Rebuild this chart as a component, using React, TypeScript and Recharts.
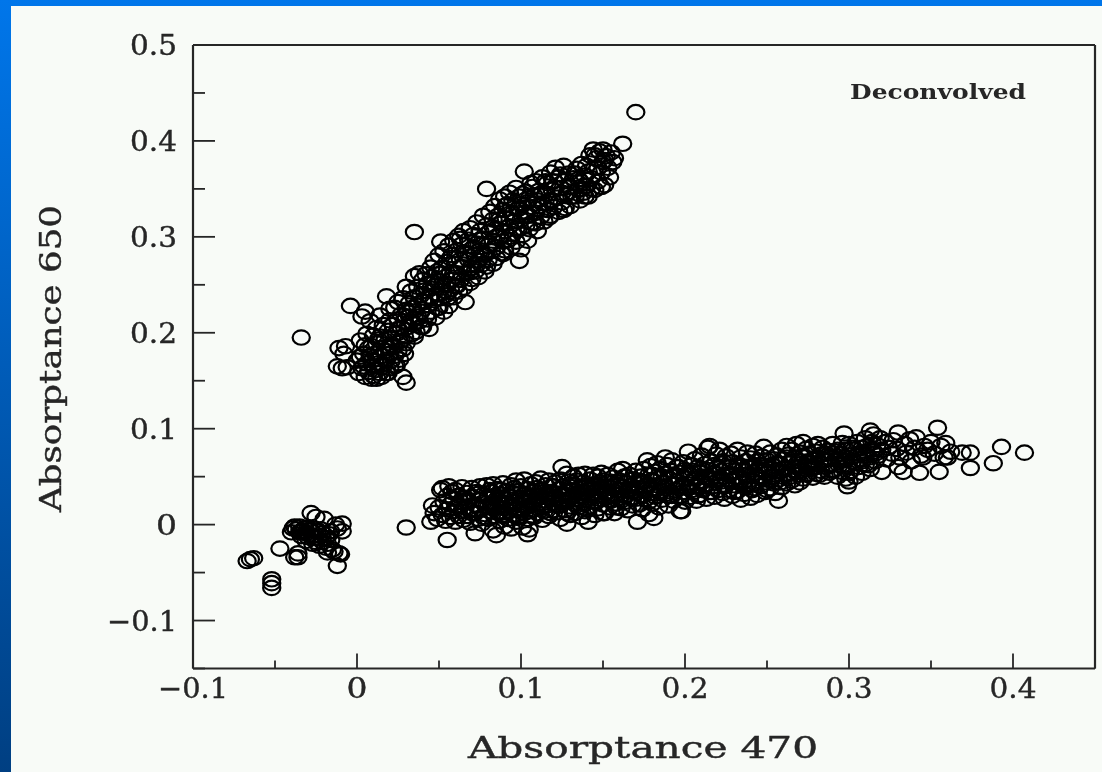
import React from "react";
import { Scatter, ScatterChart, XAxis, YAxis } from "recharts";

type Pair = [number, number];

const xTicks = [-0.1, -0.05, 0, 0.05, 0.1, 0.15, 0.2, 0.25, 0.3, 0.35, 0.4, 0.45];
const yTicks = [-0.15, -0.1, -0.05, 0, 0.05, 0.1, 0.15, 0.2, 0.25, 0.3, 0.35, 0.4, 0.45, 0.5];
const xLabels = ["\u22120.1", "0", "0.1", "0.2", "0.3", "0.4"];
const yLabels = ["\u22120.1", "0", "0.1", "0.2", "0.3", "0.4", "0.5"];

// pairs are [absorptance 470, absorptance 650]
const upperBand: Pair[] = [
  [-.034,.195],[-.012,.165],[-.011,.184],[-.009,.163],[-.008,.178],[-.007,.186],[-.006,.164],[-.004,.228],
  [.000,.171],[.001,.158],[.002,.192],[.003,.217],[.003,.163],[.004,.178],[.005,.187],[.005,.154],[.005,.222],
  [.006,.168],[.006,.199],[.007,.159],[.008,.176],[.008,.212],[.009,.152],[.009,.186],[.010,.165],[.010,.197],[.010,.155],
  [.011,.178],[.012,.205],[.012,.152],[.012,.189],[.013,.168],[.014,.218],[.014,.158],[.014,.196],[.015,.176],[.015,.184],[.015,.154],
  [.016,.208],[.016,.165],[.017,.192],[.018,.238],[.018,.172],[.018,.158],[.019,.202],[.019,.184],[.02,.225],[.02,.178],[.02,.213],[.02,.163],
  [.021,.195],[.021,.171],[.022,.208],[.022,.186],[.023,.165],[.023,.226],[.024,.166],[.024,.199],[.025,.214],[.025,.181],[.025,.232],
  [.026,.191],[.026,.172],[.027,.219],[.027,.205],[.028,.154],[.028,.236],[.028,.183],[.029,.212],[.029,.196],[.030,.148],[.030,.248],[.030,.224],[.030,.189],
  [.031,.206],[.032,.231],[.032,.217],[.033,.198],[.033,.243],[.034,.226],[.034,.209],[.035,.305],[.035,.259],[.035,.237],[.035,.215],
  [.036,.201],[.037,.248],[.037,.228],[.038,.262],[.038,.212],[.039,.239],[.039,.222],[.040,.255],[.040,.206],[.040,.233],
  [.041,.244],[.042,.261],[.042,.218],[.043,.229],[.043,.251],[.044,.204],[.044,.238],[.045,.268],[.045,.246],[.045,.222],
  [.046,.258],[.047,.234],[.047,.275],[.048,.249],[.048,.216],[.049,.264],[.049,.241],[.050,.226],[.050,.281],[.050,.254],
  [.051,.295],[.051,.236],[.052,.268],[.052,.247],[.053,.285],[.053,.222],[.054,.258],[.054,.239],[.055,.274],[.055,.251],
  [.056,.291],[.056,.228],[.057,.263],[.057,.245],[.058,.281],[.058,.255],[.059,.296],[.059,.237],[.060,.272],[.060,.249],
  [.061,.286],[.061,.262],[.062,.301],[.062,.243],[.063,.276],[.063,.255],[.064,.292],[.064,.268],[.065,.306],[.065,.247],
  [.066,.232],[.066,.283],[.067,.263],[.068,.297],[.068,.276],[.069,.252],[.069,.309],[.070,.287],[.070,.268],[.070,.256],
  [.071,.302],[.072,.281],[.072,.264],[.073,.315],[.073,.293],[.074,.275],[.074,.258],[.075,.306],[.075,.286],
  [.076,.271],[.077,.322],[.077,.298],[.078,.281],[.078,.264],[.079,.350],[.079,.312],[.080,.291],[.080,.276],
  [.081,.326],[.081,.305],[.082,.285],[.083,.318],[.083,.296],[.083,.272],[.084,.332],[.084,.308],[.085,.289],[.085,.278],
  [.086,.322],[.087,.301],[.087,.339],[.088,.283],[.088,.314],[.089,.295],[.089,.328],[.090,.342],[.090,.306],[.090,.286],
  [.091,.319],[.092,.297],[.092,.334],[.093,.311],[.093,.346],[.094,.289],[.094,.325],[.095,.303],[.095,.338],
  [.096,.316],[.097,.351],[.097,.295],[.098,.329],[.098,.307],[.099,.275],[.099,.342],[.100,.318],[.100,.287],[.100,.334],
  [.101,.302],[.102,.368],[.102,.325],[.103,.347],[.103,.312],[.104,.296],[.104,.336],[.105,.322],[.105,.308],
  [.106,.356],[.107,.331],[.107,.315],[.108,.343],[.109,.325],[.109,.358],[.110,.306],[.110,.338],
  [.111,.348],[.112,.321],[.113,.335],[.113,.362],[.114,.316],[.115,.345],[.116,.328],[.116,.356],[.117,.338],[.118,.367],[.118,.322],[.119,.349],[.120,.331],[.120,.358],
  [.121,.372],[.122,.341],[.123,.326],[.124,.365],[.124,.351],[.125,.336],[.126,.374],[.126,.328],[.127,.358],[.128,.345],[.129,.366],[.130,.332],[.130,.352],
  [.132,.361],[.133,.342],[.134,.371],[.135,.349],[.136,.358],[.136,.338],[.137,.376],[.138,.346],[.139,.364],[.140,.353],[.140,.374],
  [.141,.342],[.142,.385],[.143,.361],[.144,.391],[.145,.349],[.145,.372],[.146,.382],[.147,.358],[.148,.389],[.149,.367],[.150,.378],[.150,.391],[.151,.354],[.152,.384],[.153,.372],[.154,.362],[.155,.388],[.156,.378],[.157,.382],[.162,.397],[.170,.430],
];

const upperCore: Pair[] = [
  [.002,.175],[.004,.165],[.007,.184],[.009,.171],[.011,.161],[.013,.193],[.015,.167],[.017,.181],[.019,.158],[.021,.188],[.023,.176],[.025,.204],[.027,.192],[.029,.178],
  [.031,.221],[.033,.212],[.035,.196],[.037,.217],[.039,.206],[.041,.232],[.043,.214],[.045,.236],[.047,.252],[.049,.226],[.051,.262],[.053,.244],[.055,.236],[.057,.278],[.059,.262],
  [.061,.249],[.063,.298],[.065,.271],[.067,.282],[.069,.263],[.071,.289],[.073,.271],[.075,.297],[.077,.282],[.079,.269],[.081,.293],[.083,.31],[.085,.3],[.087,.318],[.089,.282],
  [.091,.333],[.093,.3],[.095,.324],[.097,.309],[.099,.33],[.101,.345],[.103,.322],[.105,.34],[.107,.352],[.109,.314],[.111,.332],[.113,.346],[.115,.358],[.117,.32],[.119,.338],
  [.121,.351],[.123,.362],[.125,.346],[.127,.33],[.129,.352],[.131,.342],[.133,.366],[.135,.36],[.137,.35],[.139,.342],[.141,.368],[.143,.35],[.145,.385],[.147,.372],[.149,.352],[.151,.38],
];

const lowerBandLeft: Pair[] = [
  [.030,-.003],[.045,.003],[.046,.020],[.047,.012],[.049,.006],[.050,.018],[.051,.036],[.052,.038],[.052,.010],[.053,.024],[.054,.004],[.055,.016],[.055,.030],[.055,-.016],
  [.056,.040],[.057,.021],[.057,.008],[.058,.034],[.059,.014],[.059,.027],[.060,.003],[.060,.036],
  [.061,.019],[.062,.030],[.062,.009],[.063,.024],[.064,.039],[.064,.014],[.065,.005],[.065,.028],
  [.066,.018],[.067,.033],[.067,.009],[.068,.024],[.069,.002],[.069,.015],[.070,.029],[.070,.038],
  [.072,-.009],[.072,.012],[.072,.021],[.073,.034],[.074,.006],[.074,.026],[.075,.017],[.075,.040],
  [.076,.001],[.077,.023],[.077,.031],[.078,.011],[.079,.041],[.079,.019],[.080,.006],[.080,.028],
  [.081,.036],[.082,.014],[.082,.022],[.083,-.006],[.083,.042],[.084,.009],[.084,.030],[.085,-.011],[.085,.018],[.085,.026],
  [.086,.037],[.087,.004],[.087,.014],[.088,.031],[.088,.021],[.089,.043],[.089,.009],[.090,.026],[.090,-.002],[.090,.017],
  [.091,.035],[.092,.022],[.092,.006],[.093,.029],[.093,.014],[.094,.041],[.094,-.004],[.095,.019],[.095,.033],[.095,.010],
  [.096,.024],[.097,.046],[.097,.003],[.098,.016],[.098,.035],[.099,.028],[.099,.009],[.100,.021],[.100,.040],[.100,.013],
  [.101,-.003],[.102,.031],[.102,.047],[.103,.018],[.103,.025],[.104,-.010],[.104,.037],[.104,.006],[.105,.014],[.105,.029],[.105,-.005],
  [.106,.042],[.107,.021],[.107,.009],[.108,.034],[.108,.016],[.109,.027],[.109,.044],[.110,.012],[.110,.038],[.110,.022],
  [.111,.030],[.112,.018],[.112,.048],[.113,.005],[.113,.036],[.114,.025],[.114,.014],[.115,.041],[.115,.031],
  [.116,.020],[.117,.046],[.117,.009],[.118,.034],[.118,.027],[.119,.015],[.119,.040],[.120,.023],[.120,.032],
  [.121,.044],[.122,.013],[.122,.028],[.123,.037],[.123,.020],[.124,.006],[.124,.047],[.125,.060],[.125,.031],[.125,.024],
  [.126,.040],[.127,.015],[.128,.001],[.128,.034],[.128,.053],[.129,.026],[.129,.045],[.130,.019],[.130,.036],[.130,.010],
  [.131,.029],[.132,.050],[.132,.041],[.133,.022],[.133,.012],[.134,.035],[.134,.046],[.135,.027],[.135,.018],[.135,.052],
  [.136,.038],[.137,.030],[.137,.008],[.138,.044],[.138,.023],[.139,.053],[.139,.014],[.140,.034],[.140,.026],[.140,.041],
  [.141,.003],[.142,.047],[.142,.019],[.143,.032],[.143,.038],[.144,.024],[.144,.052],[.145,.010],[.145,.042],[.145,.029],
  [.146,.035],[.147,.017],[.147,.050],[.148,.044],[.148,.027],[.149,.054],[.149,.037],[.150,.021],[.150,.031],[.150,.046],
  [.151,.012],[.152,.040],[.152,.028],[.153,.052],[.153,.034],[.154,.018],[.154,.045],[.155,.025],[.155,.038],
  [.156,.049],[.157,.031],[.157,.012],[.158,.042],[.158,.022],[.159,.056],[.159,.036],[.160,.028],[.160,.046],
  [.161,.017],[.162,.058],[.162,.039],[.163,.030],[.163,.050],[.164,.024],[.164,.043],[.165,.035],[.165,.015],
  [.166,.052],[.167,.028],[.167,.041],[.168,.020],[.168,.047],[.169,.035],[.170,.056],[.170,.027],[.170,.043],
  [.171,.003],[.172,.038],[.172,.021],[.173,.050],[.173,.031],[.174,.045],[.174,.016],[.175,.036],[.175,.058],
  [.176,.027],[.177,.067],[.177,.042],[.178,.052],[.178,.011],[.179,.033],[.179,.061],[.180,.022],[.180,.046],[.180,.038],
];

const lowerBandRight: Pair[] = [
  [.181,.007],[.182,.055],[.182,.029],[.183,.041],[.183,.064],[.184,.018],[.184,.048],[.185,.035],[.185,.058],
  [.186,.026],[.187,.044],[.188,.070],[.188,.053],[.188,.032],[.189,.062],[.189,.038],[.190,.020],[.190,.048],
  [.191,.056],[.192,.030],[.192,.067],[.193,.042],[.193,.025],[.194,.051],[.194,.036],[.195,.060],[.195,.045],
  [.196,.029],[.197,.014],[.197,.054],[.198,.014],[.198,.040],[.199,.065],[.199,.034],[.200,.048],[.200,.024],[.200,.057],
  [.202,.076],[.202,.038],[.203,.052],[.203,.029],[.204,.062],[.204,.044],[.205,.034],[.205,.056],
  [.206,.068],[.207,.025],[.207,.048],[.208,.040],[.208,.060],[.209,.031],[.209,.054],[.210,.072],[.210,.044],
  [.211,.036],[.212,.063],[.212,.050],[.213,.027],[.213,.042],[.214,.057],[.214,.080],[.215,.082],[.215,.034],[.215,.047],
  [.216,.066],[.217,.040],[.218,.054],[.218,.029],[.219,.073],[.219,.048],[.220,.060],[.220,.036],
  [.221,.078],[.222,.045],[.222,.056],[.223,.033],[.223,.066],[.224,.050],[.224,.027],[.225,.071],[.225,.041],
  [.226,.060],[.227,.036],[.227,.053],[.228,.074],[.228,.046],[.229,.030],[.229,.065],[.230,.056],[.230,.041],
  [.232,.078],[.232,.035],[.233,.062],[.233,.049],[.234,.026],[.234,.070],[.235,.043],[.235,.057],
  [.236,.032],[.237,.066],[.237,.051],[.238,.075],[.238,.040],[.239,.059],[.240,.028],[.240,.047],[.240,.069],
  [.241,.036],[.242,.062],[.242,.054],[.243,.043],[.243,.074],[.244,.031],[.244,.066],[.245,.050],[.245,.058],
  [.246,.040],[.247,.071],[.248,.081],[.248,.047],[.249,.060],[.249,.034],[.250,.054],[.250,.067],[.250,.044],
  [.252,.075],[.252,.038],[.253,.062],[.253,.050],[.254,.068],[.254,.043],[.255,.056],[.255,.033],
  [.256,.072],[.257,.025],[.257,.047],[.258,.063],[.258,.055],[.259,.039],[.259,.078],[.260,.068],[.260,.050],
  [.261,.059],[.262,.082],[.262,.043],[.263,.073],[.263,.053],[.264,.064],[.265,.046],[.265,.078],
  [.266,.057],[.267,.070],[.267,.041],[.268,.084],[.268,.063],[.269,.052],[.270,.044],[.270,.075],[.270,.066],
  [.271,.056],[.272,.086],[.272,.048],[.273,.070],[.274,.061],[.274,.079],[.275,.053],[.275,.066],
  [.276,.074],[.277,.058],[.278,.082],[.278,.049],[.279,.067],[.280,.060],[.280,.076],[.280,.053],
  [.281,.084],[.282,.064],[.283,.056],[.283,.073],[.284,.080],[.285,.067],[.285,.050],[.286,.060],[.287,.077],[.288,.070],[.288,.054],[.289,.063],[.290,.084],[.290,.074],
  [.291,.057],[.292,.068],[.293,.078],[.293,.050],[.294,.062],[.295,.074],[.296,.085],[.296,.055],[.297,.095],[.297,.067],[.298,.048],[.298,.078],[.299,.040],[.299,.061],[.300,.072],[.300,.045],[.300,.084],
  [.301,.056],[.302,.066],[.303,.078],[.304,.050],[.305,.072],[.305,.086],[.306,.060],[.307,.068],[.308,.080],[.308,.054],[.309,.074],[.310,.090],[.310,.063],
  [.311,.082],[.312,.070],[.313,.098],[.313,.058],[.314,.086],[.315,.076],[.315,.094],[.316,.066],[.317,.083],[.318,.072],[.319,.090],[.320,.055],[.320,.078],
  [.322,.086],[.323,.068],[.324,.080],[.326,.074],[.327,.088],[.329,.079],[.330,.096],[.330,.060],[.331,.070],[.333,.055],[.334,.084],[.335,.075],[.337,.089],[.338,.066],[.340,.080],
  [.341,.091],[.343,.054],[.344,.072],[.345,.070],[.346,.082],[.348,.078],[.350,.086],[.352,.074],[.354,.101],[.355,.055],[.356,.082],[.358,.070],[.359,.085],[.360,.070],[.362,.076],[.369,.075],[.374,.059],[.374,.075],[.388,.064],[.393,.081],[.407,.075],
];

// the solid black middle of the lower band
const lowerCore: Pair[] = [
  [.062,.02],[.066,.028],[.07,.012],[.074,.032],[.077,.008],[.08,.018],[.082,.034],[.084,.02],[.086,.012],[.088,.036],[.09,.01],[.092,.03],[.094,.018],[.096,.038],[.098,.007],
  [.1,.028],[.102,.012],[.104,.024],[.106,.03],[.108,.008],[.11,.03],[.112,.036],[.114,.02],[.116,.032],[.118,.012],[.12,.04],[.122,.02],[.124,.03],[.126,.024],[.128,.012],
  [.13,.042],[.132,.03],[.134,.02],[.136,.025],[.138,.034],[.14,.016],[.142,.036],[.144,.04],[.146,.024],[.148,.034],[.15,.012],[.152,.034],[.154,.03],[.156,.04],[.158,.018],
  [.16,.036],[.162,.026],[.164,.05],[.166,.036],[.168,.028],[.17,.036],[.172,.046],[.174,.03],[.176,.04],[.178,.024],[.18,.052],[.182,.036],[.184,.03],[.186,.05],[.188,.04],
  [.19,.03],[.192,.05],[.194,.042],[.196,.06],[.198,.03],[.2,.04],[.202,.054],[.204,.036],[.206,.048],[.208,.03],[.21,.058],[.212,.04],[.214,.05],[.216,.034],[.218,.062],
  [.22,.046],[.222,.064],[.224,.04],[.226,.052],[.228,.06],[.23,.034],[.232,.05],[.234,.06],[.236,.045],[.238,.052],[.24,.06],[.242,.038],[.244,.05],[.246,.062],[.248,.056],
  [.25,.036],[.252,.058],[.254,.05],[.256,.064],[.258,.044],[.26,.058],[.262,.07],[.264,.05],[.266,.066],[.268,.055],[.27,.06],[.272,.072],[.274,.052],[.276,.064],[.278,.06],
  [.28,.07],[.282,.052],[.284,.068],[.286,.074],[.288,.062],[.29,.056],[.292,.076],[.294,.068],[.296,.062],[.298,.07],[.3,.054],[.302,.08],[.304,.064],[.306,.074],[.308,.066],
  [.31,.072],[.312,.062],[.314,.078],[.316,.074],
];

const originCluster: Pair[] = [
  [-.067,-.038],[-.065,-.036],[-.063,-.035],[-.052,-.057],[-.052,-.061],[-.052,-.066],[-.047,-.025],
  [-.040,-.008],[-.039,-.004],[-.038,-.034],[-.037,-.005],[-.036,-.034],[-.036,-.030],[-.035,-.002],[-.034,-.012],[-.033,-.006],[-.032,-.004],[-.031,-.017],[-.030,-.003],[-.029,-.010],
  [-.028,.012],[-.027,-.020],[-.026,-.014],[-.025,.008],[-.024,-.006],[-.023,-.022],[-.022,-.012],[-.021,-.018],[-.020,.006],[-.019,-.024],[-.018,-.029],[-.017,-.010],[-.016,-.016],
  [-.014,-.028],[-.013,.000],[-.012,-.043],[-.012,-.004],[-.011,-.030],[-.010,-.031],[-.009,-.007],[-.009,.001],
  [-.038,-.002],[-.034,-.007],[-.031,-.009],[-.028,-.006],[-.026,-.004],[-.027,-.012],[-.024,-.014],[-.022,-.005],[-.021,-.009],[-.019,-.014],[-.018,-.020],[-.016,-.007],[-.035,-.008],[-.03,-.013],[-.025,-.018],[-.015,-.026],
];

const clusters = [upperBand, upperCore, lowerBandLeft, lowerBandRight, lowerCore, originCluster];

const INK = "#262626";
const FONT = "'DejaVu Serif', serif";
const LABEL_WIDTHS: Record<number, number> = { 1: 21, 3: 47, 4: 70 };

const toRows = (pairs: Pair[]) => pairs.map(([x, y]) => ({ x, y }));

// Labelled ticks are every 0.1, the ones between are short and unlabelled
const isMajor = (value: number) => Math.abs(value * 10 - Math.round(value * 10)) < 1e-6;

const formatTick = (value: number) => {
  const rounded = Math.round(value * 10) / 10;
  if (rounded === 0) return "0";
  return rounded < 0 ? `\u2212${Math.abs(rounded)}` : String(rounded);
};

const tickTextProps = (label: string) => ({
  fontFamily: FONT,
  fontSize: 28,
  fill: INK,
  stroke: INK,
  strokeWidth: 0.4,
  textLength: LABEL_WIDTHS[label.length],
  lengthAdjust: "spacingAndGlyphs" as const,
});

const BottomTick = ({ x, y, payload }: any) => {
  const major = isMajor(payload.value);
  const label = formatTick(payload.value);
  return (
    <g>
      <line x1={x} x2={x} y1={y} y2={y - (major ? 15 : 8)} stroke={INK} strokeWidth={1.8} />
      {major && xLabels.includes(label) && (
        <text x={x} y={y + 29} textAnchor="middle" {...tickTextProps(label)}>
          {label}
        </text>
      )}
    </g>
  );
};

const TopTick = ({ x, y, payload }: any) => (
  <line x1={x} x2={x} y1={y} y2={y + (isMajor(payload.value) ? 15 : 8)} stroke={INK} strokeWidth={1.8} />
);

const LeftTick = ({ x, y, payload }: any) => {
  const major = isMajor(payload.value);
  const label = formatTick(payload.value);
  return (
    <g>
      <line x1={x} x2={x + (major ? 22 : 12)} y1={y} y2={y} stroke={INK} strokeWidth={1.8} />
      {major && yLabels.includes(label) && (
        <text x={x - 16} y={y + 10} textAnchor="end" {...tickTextProps(label)}>
          {label}
        </text>
      )}
    </g>
  );
};

const RightTick = ({ x, y, payload }: any) => (
  <line x1={x} x2={x - (isMajor(payload.value) ? 22 : 12)} y1={y} y2={y} stroke={INK} strokeWidth={1.8} />
);

const Ring = ({ cx, cy }: any) => (
  <ellipse cx={cx} cy={cy} rx={8.6} ry={7.2} fill="none" stroke="#000" strokeWidth={2.2} />
);

export default function App() {
  return (
    <div
      style={{
        position: "absolute",
        left: 0,
        top: 0,
        width: 1102,
        height: 772,
        overflow: "hidden",
        background: "linear-gradient(#0076ea, #003f82)",
      }}
    >
      <div style={{ position: "absolute", left: 11, top: 6, width: 1091, height: 766, background: "#f8fbf7" }} />
      <div style={{ position: "absolute", left: 0, top: 0, filter: "blur(0.6px)" }}>
        <ScatterChart width={1102} height={772} margin={{ top: 0, right: 0, bottom: 0, left: 0 }}>
          <XAxis
            xAxisId="bottom"
            type="number"
            dataKey="x"
            orientation="bottom"
            domain={[-0.1, 0.45]}
            ticks={xTicks}
            interval={0}
            height={103.5}
            tickSize={0}
            tickMargin={0}
            tickLine={false}
            tick={BottomTick}
            axisLine={{ stroke: INK, strokeWidth: 2.2 }}
          />
          <XAxis
            xAxisId="top"
            type="number"
            dataKey="x"
            orientation="top"
            domain={[-0.1, 0.45]}
            ticks={xTicks}
            interval={0}
            height={45}
            tickSize={0}
            tickMargin={0}
            tickLine={false}
            tick={TopTick}
            axisLine={{ stroke: INK, strokeWidth: 2.2 }}
          />
          <YAxis
            yAxisId="left"
            type="number"
            dataKey="y"
            orientation="left"
            domain={[-0.15, 0.5]}
            ticks={yTicks}
            interval={0}
            width={193}
            tickSize={0}
            tickMargin={0}
            tickLine={false}
            tick={LeftTick}
            axisLine={{ stroke: INK, strokeWidth: 2.2 }}
          />
          <YAxis
            yAxisId="right"
            type="number"
            dataKey="y"
            orientation="right"
            domain={[-0.15, 0.5]}
            ticks={yTicks}
            interval={0}
            width={7}
            tickSize={0}
            tickMargin={0}
            tickLine={false}
            tick={RightTick}
            axisLine={{ stroke: INK, strokeWidth: 2.2 }}
          />
          {clusters.map((pairs, i) => (
            <Scatter
              key={i}
              data={toRows(pairs)}
              xAxisId="bottom"
              yAxisId="left"
              shape={Ring}
              isAnimationActive={false}
            />
          ))}
          <text x={850} y={99} fontFamily={FONT} fontWeight="bold" fontSize={21} fill={INK} textLength={176} lengthAdjust="spacingAndGlyphs">
            Deconvolved
          </text>
          <text x={468} y={758} fontFamily={FONT} fontSize={29} fill={INK} stroke={INK} strokeWidth={0.4} textLength={350} lengthAdjust="spacingAndGlyphs">
            Absorptance 470
          </text>
          <text
            transform="translate(61 512) rotate(-90)"
            fontFamily={FONT}
            fontSize={30}
            fill={INK}
            stroke={INK}
            strokeWidth={0.4}
            textLength={307}
            lengthAdjust="spacingAndGlyphs"
          >
            Absorptance 650
          </text>
        </ScatterChart>
      </div>
    </div>
  );
}
